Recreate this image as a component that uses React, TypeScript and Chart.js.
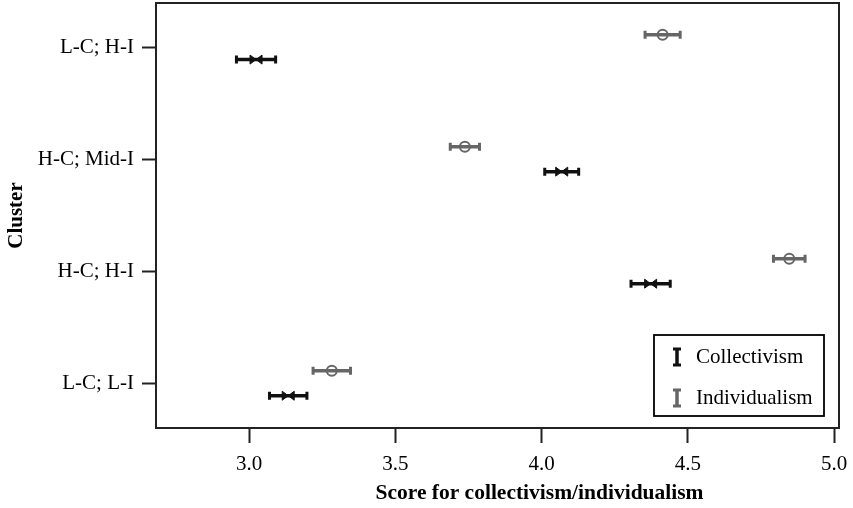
import React, { useEffect, useRef } from "react";
import { Chart, registerables } from "chart.js";

Chart.register(...registerables);

// Clusters from bottom (index 0) to top (index 3)
const clusters = ["L-C; L-I", "H-C; H-I", "H-C; Mid-I", "L-C; H-I"];
const collectivismMean = [3.134, 4.373, 4.069, 3.024];
const collectivismErr = [0.064, 0.067, 0.058, 0.067];
const individualismMean = [3.283, 4.847, 3.738, 4.414];
const individualismErr = [0.064, 0.054, 0.05, 0.06];
const xTicks = [3.0, 3.5, 4.0, 4.5, 5.0];
const seriesNames = ["Collectivism", "Individualism"];
const xTitle = "Score for collectivism/individualism";
const yTitle = "Cluster";

const COLL_COLOR = "#111111";
const IND_COLOR = "#666666";
const FONT = "'Liberation Serif', 'Times New Roman', serif";

export default function App() {
  const ref = useRef<HTMLCanvasElement | null>(null);

  useEffect(() => {
    document.body.style.margin = "0";
    const canvas = ref.current;
    if (!canvas) return;

    const errorBars = {
      id: "errorBars",
      beforeDatasetsDraw(chart: any) {
        const ctx = chart.ctx;
        const xs = chart.scales.x;
        chart.data.datasets.forEach((ds: any, di: number) => {
          const meta = chart.getDatasetMeta(di);
          ctx.save();
          ctx.strokeStyle = ds.borderColor;
          meta.data.forEach((pt: any, i: number) => {
            const raw = ds.data[i];
            const x1 = xs.getPixelForValue(raw.x - raw.err);
            const x2 = xs.getPixelForValue(raw.x + raw.err);
            const y = pt.y;
            ctx.lineWidth = 3.5;
            ctx.beginPath();
            ctx.moveTo(x1, y);
            ctx.lineTo(x2, y);
            ctx.stroke();
            ctx.lineWidth = 3;
            ctx.beginPath();
            ctx.moveTo(x1, y - 4);
            ctx.lineTo(x1, y + 4);
            ctx.moveTo(x2, y - 4);
            ctx.lineTo(x2, y + 4);
            ctx.stroke();
          });
          ctx.restore();
        });
      },
      afterDatasetsDraw(chart: any) {
        const ctx = chart.ctx;
        const meta = chart.getDatasetMeta(0);
        ctx.save();
        ctx.fillStyle = COLL_COLOR;
        ctx.strokeStyle = COLL_COLOR;
        ctx.lineWidth = 1;
        meta.data.forEach((pt: any) => {
          const x = pt.x;
          const y = pt.y;
          ctx.beginPath();
          ctx.moveTo(x - 6, y - 4.5);
          ctx.lineTo(x, y);
          ctx.lineTo(x - 6, y + 4.5);
          ctx.closePath();
          ctx.moveTo(x + 6, y - 4.5);
          ctx.lineTo(x, y);
          ctx.lineTo(x + 6, y + 4.5);
          ctx.closePath();
          ctx.fill();
          ctx.stroke();
        });
        ctx.restore();
      },
      afterDraw(chart: any) {
        const ctx = chart.ctx;
        const a = chart.chartArea;
        ctx.save();
        // frame
        ctx.strokeStyle = "#222";
        ctx.lineWidth = 2;
        ctx.strokeRect(a.left, a.top, a.right - a.left, a.bottom - a.top);
        // x title (offset right, as in the original)
        ctx.fillStyle = "#000";
        ctx.font = `bold 21.5px ${FONT}`;
        ctx.textAlign = "center";
        ctx.textBaseline = "middle";
        ctx.fillText(xTitle, (a.left + a.right) / 2 + 42, 493);
        // legend
        const bw = 170;
        const bh = 81;
        const bx = a.right - 15 - bw;
        const by = a.bottom - 12 - bh;
        ctx.lineWidth = 1.8;
        ctx.strokeStyle = "#000";
        ctx.strokeRect(bx, by, bw, bh);
        const colors = [COLL_COLOR, IND_COLOR];
        ctx.font = `21px ${FONT}`;
        ctx.textBaseline = "alphabetic";
        ctx.textAlign = "left";
        seriesNames.forEach((name, i) => {
          const base = by + 28 + i * 41;
          const ix = bx + 23;
          const cy = base - 6;
          ctx.strokeStyle = colors[i];
          ctx.lineWidth = 3.5;
          ctx.beginPath();
          ctx.moveTo(ix, cy - 8);
          ctx.lineTo(ix, cy + 8);
          ctx.stroke();
          ctx.lineWidth = 3;
          ctx.beginPath();
          ctx.moveTo(ix - 4, cy - 8);
          ctx.lineTo(ix + 4, cy - 8);
          ctx.moveTo(ix - 4, cy + 8);
          ctx.lineTo(ix + 4, cy + 8);
          ctx.stroke();
          ctx.fillStyle = "#000";
          ctx.fillText(name, bx + 42, base);
        });
        ctx.restore();
      },
    };

    const chart = new Chart(canvas, {
      type: "scatter",
      data: {
        datasets: [
          {
            label: seriesNames[0],
            data: clusters.map((_, i) => ({
              x: collectivismMean[i],
              y: i - 0.105,
              err: collectivismErr[i],
            })),
            borderColor: COLL_COLOR,
            backgroundColor: COLL_COLOR,
            pointRadius: 0,
          },
          {
            label: seriesNames[1],
            data: clusters.map((_, i) => ({
              x: individualismMean[i],
              y: i + 0.117,
              err: individualismErr[i],
            })),
            borderColor: IND_COLOR,
            backgroundColor: "rgba(255,255,255,0)",
            pointRadius: 5,
            pointBorderWidth: 2,
            pointStyle: "circle",
          },
        ] as any,
      },
      options: {
        animation: false,
        responsive: false,
        layout: {
          autoPadding: false,
          padding: { top: 3, right: 14, left: 0, bottom: 0 },
        },
        plugins: {
          legend: { display: false },
          tooltip: { enabled: false },
        },
        scales: {
          x: {
            type: "linear",
            min: 2.682,
            max: 5.017,
            afterBuildTicks: (s: any) => {
              s.ticks = xTicks.map((v) => ({ value: v }));
            },
            afterFit: (s: any) => {
              s.height = 80;
              s.paddingLeft = 0;
              s.paddingRight = 0;
            },
            grid: {
              drawOnChartArea: false,
              drawTicks: true,
              tickLength: 15,
              tickWidth: 2,
              tickColor: "#222",
            },
            border: { display: true, color: "#222", width: 2 },
            ticks: {
              color: "#000",
              font: { family: FONT, size: 21 },
              padding: 9,
              maxRotation: 0,
              callback: (v: any) => Number(v).toFixed(1),
            },
            title: { display: false },
          },
          y: {
            type: "linear",
            min: -0.393,
            max: 3.4,
            afterBuildTicks: (s: any) => {
              s.ticks = clusters.map((_, i) => ({ value: i }));
            },
            afterFit: (s: any) => {
              s.width = 156;
              s.paddingTop = 0;
              s.paddingBottom = 0;
            },
            grid: {
              drawOnChartArea: false,
              drawTicks: true,
              tickLength: 14,
              tickWidth: 2,
              tickColor: "#222",
            },
            border: { display: true, color: "#222", width: 2 },
            ticks: {
              color: "#000",
              font: { family: FONT, size: 21 },
              padding: 8,
              callback: (v: any) => clusters[Math.round(Number(v))] ?? "",
            },
            title: {
              display: true,
              text: yTitle,
              color: "#000",
              font: { family: FONT, size: 21, weight: "bold" },
              padding: { top: 4, bottom: 4 },
            },
          },
        },
      },
      plugins: [errorBars],
    });

    return () => chart.destroy();
  }, []);

  return (
    <div style={{ width: 853, height: 508 }}>
      <canvas ref={ref} width={853} height={508} />
    </div>
  );
}
